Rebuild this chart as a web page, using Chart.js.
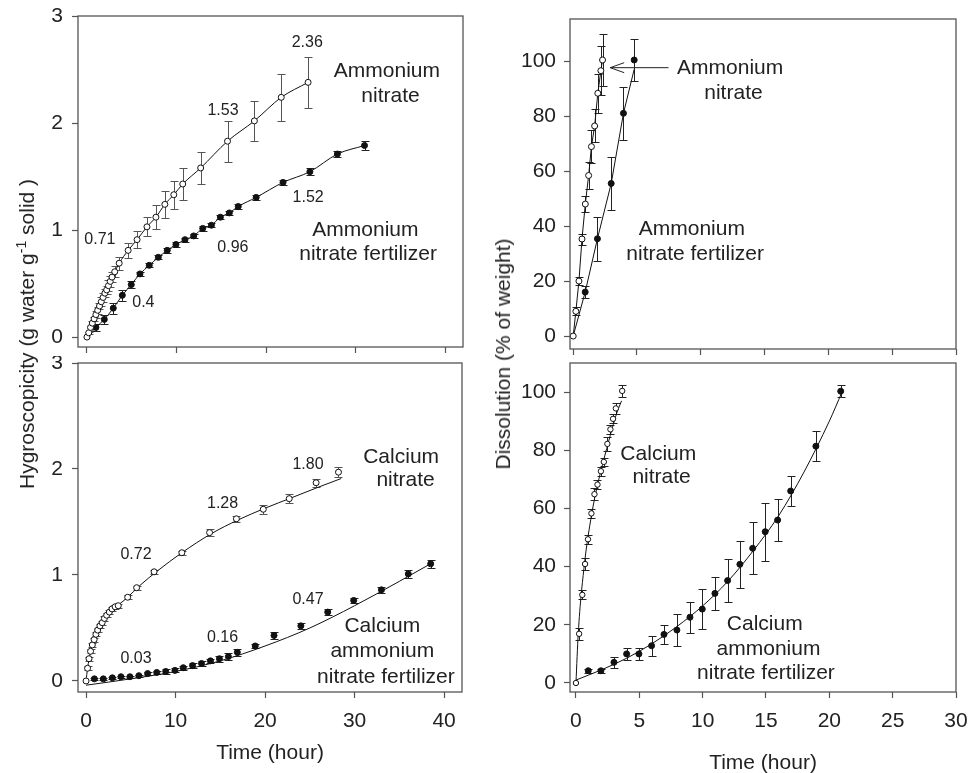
<!DOCTYPE html>
<html>
<head>
<meta charset="utf-8">
<script src="https://cdn.jsdelivr.net/npm/chart.js@4.4.1/dist/chart.umd.min.js"></script>
<style>
  html, body { margin: 0; padding: 0; background: #fff; overflow: hidden; }
  #wrap { position: relative; width: 968px; height: 773px; overflow: hidden;
          font-family: Arial, "Liberation Sans", sans-serif; color: #222; }
  canvas { position: absolute; }
  .ytitle { position: absolute; font-size: 21px; white-space: nowrap;
            transform: translate(-50%, -50%) rotate(-90deg); }
  .ytitle sup { font-size: 14px; }
</style>
</head>
<body>
<div id="wrap">
  <canvas id="tl" width="470" height="356" style="left:0;top:0"></canvas>
  <canvas id="bl" width="470" height="417" style="left:0;top:356px"></canvas>
  <canvas id="tr" width="488" height="356" style="left:480px;top:0"></canvas>
  <canvas id="br" width="488" height="425" style="left:480px;top:356px"></canvas>
  <div class="ytitle" style="left:26px;top:334px">Hygroscopicity (g water g<sup>-1</sup> solid )</div>
  <div class="ytitle" style="left:503px;top:354px">Dissolution (% of weight)</div>
</div>
<script>
const FONT = 'Arial, "Liberation Sans", sans-serif';

// ---- hygroscopicity, ammonium nitrate (open) ----
const anTime = [0, 0.2, 0.4, 0.6, 0.8, 1.0, 1.2, 1.4, 1.6, 1.8, 2.0, 2.2, 2.4, 2.6, 2.8, 3.1, 3.6, 4.6, 5.6, 6.7, 7.7, 8.7, 9.7, 10.7, 12.7, 15.7, 18.7, 21.7, 24.7];
const anHyg = [0, 0.04, 0.09, 0.13, 0.17, 0.21, 0.25, 0.29, 0.33, 0.37, 0.41, 0.44, 0.48, 0.52, 0.56, 0.61, 0.69, 0.81, 0.91, 1.03, 1.12, 1.24, 1.33, 1.43, 1.58, 1.83, 2.02, 2.24, 2.38];
const anHygErr = [0, 0.01, 0.01, 0.02, 0.02, 0.03, 0.03, 0.03, 0.04, 0.04, 0.04, 0.04, 0.05, 0.05, 0.05, 0.05, 0.06, 0.07, 0.08, 0.09, 0.11, 0.125, 0.13, 0.15, 0.15, 0.19, 0.19, 0.22, 0.24];

// ---- hygroscopicity, ammonium nitrate fertilizer (filled) ----
const anfTime = [1.0, 1.94, 2.94, 3.95, 4.95, 5.92, 6.96, 7.97, 8.97, 9.94, 10.95, 11.92, 12.93, 13.9, 14.9, 15.9, 16.9, 18.9, 21.9, 24.9, 27.97, 31.0];
const anfHyg = [0.09, 0.165, 0.27, 0.39, 0.49, 0.59, 0.67, 0.745, 0.81, 0.865, 0.91, 0.945, 1.015, 1.045, 1.12, 1.16, 1.22, 1.305, 1.445, 1.545, 1.71, 1.79];
const anfHygErr = [0.03, 0.04, 0.05, 0.05, 0.03, 0.02, 0.02, 0.02, 0.02, 0.02, 0.02, 0.02, 0.02, 0.02, 0.02, 0.02, 0.02, 0.02, 0.02, 0.03, 0.03, 0.04];

// ---- hygroscopicity, calcium nitrate (open) ----
const cnTime = [0, 0.17, 0.33, 0.5, 0.7, 0.9, 1.1, 1.3, 1.55, 1.8, 2.05, 2.3, 2.6, 2.9, 3.25, 3.6, 4.65, 5.65, 7.6, 10.7, 13.8, 16.8, 19.8, 22.7, 25.7, 28.2];
const cnHyg = [0, 0.12, 0.21, 0.28, 0.34, 0.39, 0.44, 0.48, 0.52, 0.55, 0.59, 0.62, 0.65, 0.68, 0.70, 0.71, 0.79, 0.88, 1.03, 1.21, 1.40, 1.53, 1.62, 1.72, 1.87, 1.97];
const cnHygErr = [0, 0.02, 0.02, 0.02, 0.02, 0.02, 0.02, 0.02, 0.02, 0.02, 0.02, 0.02, 0.02, 0.02, 0.02, 0.02, 0.02, 0.02, 0.02, 0.02, 0.03, 0.03, 0.04, 0.04, 0.04, 0.05];
const cnHygFitT = [0, 0.17, 0.5, 1, 2, 3, 4.65, 6, 8, 10.7, 14, 17, 20, 23, 26, 28.5];
const cnHygFitV = [0, 0.12, 0.27, 0.43, 0.57, 0.67, 0.79, 0.9, 1.04, 1.21, 1.39, 1.52, 1.63, 1.73, 1.83, 1.91];

// ---- hygroscopicity, calcium ammonium nitrate fertilizer (filled) ----
const canTime = [0.93, 1.93, 2.94, 3.9, 4.9, 5.9, 6.88, 7.9, 8.9, 9.93, 10.86, 11.9, 12.9, 13.9, 14.9, 15.9, 16.9, 18.9, 21.0, 24.0, 27.0, 29.9, 33.0, 36.0, 38.5];
const canHyg = [0.02, 0.02, 0.03, 0.04, 0.04, 0.05, 0.07, 0.08, 0.09, 0.10, 0.125, 0.145, 0.165, 0.19, 0.21, 0.23, 0.27, 0.33, 0.43, 0.52, 0.65, 0.76, 0.86, 1.01, 1.105];
const canHygErr = [0.01, 0.01, 0.01, 0.01, 0.01, 0.01, 0.01, 0.01, 0.02, 0.02, 0.02, 0.02, 0.02, 0.02, 0.03, 0.03, 0.03, 0.02, 0.03, 0.03, 0.03, 0.02, 0.03, 0.04, 0.04];
const canHygFitT = [0, 5, 10, 15, 20, 25, 30, 35, 38.8];
const canHygFitV = [-0.04, 0.02, 0.09, 0.19, 0.33, 0.5, 0.71, 0.94, 1.12];

// ---- dissolution, ammonium nitrate (open) ----
const anDisT = [0, 0.21, 0.45, 0.69, 0.95, 1.21, 1.43, 1.68, 1.93, 2.17, 2.3];
const anDis = [0, 9, 20, 35.3, 48, 58.4, 68.9, 76.4, 88.3, 96.5, 100.4];
const anDisErr = [0, 1.5, 1.5, 2, 3, 5, 6, 6, 7, 9, 9.5];

// ---- dissolution, ammonium nitrate fertilizer (filled) ----
const anfDisT = [0.94, 1.9, 2.98, 3.94, 4.78];
const anfDis = [16, 35.4, 55.5, 81, 100.4];
const anfDisErr = [2.2, 8, 9.7, 9.7, 7.7];
const anfDisFitT = [0, 0.94, 1.9, 2.98, 3.94, 4.78];
const anfDisFitV = [0, 16, 35.4, 55.5, 81, 97];

// ---- dissolution, calcium nitrate (open) ----
const cnDisT = [0, 0.25, 0.5, 0.72, 0.95, 1.22, 1.46, 1.7, 1.97, 2.2, 2.48, 2.72, 2.93, 3.15, 3.65];
const cnDis = [0, 16.9, 30.3, 40.9, 49.4, 58.3, 64.9, 68.2, 72.8, 76, 82.2, 87.2, 90.8, 94.4, 100.4];
const cnDisErr = [0, 2, 1.5, 2, 1.5, 1.5, 2, 1.5, 1.5, 1.5, 2.5, 1.5, 1.5, 2, 2.2];
const cnDisFitT = [0, 0.18, 0.66, 1.24, 1.7, 2.15, 2.7, 3.2, 3.6];
const cnDisFitV = [0, 17, 40.5, 58, 68, 76, 85, 92.5, 97];

// ---- dissolution, calcium ammonium nitrate fertilizer (filled) ----
const canDisT = [0.97, 1.97, 3.0, 4.0, 4.97, 5.97, 6.95, 7.97, 9.0, 9.97, 10.97, 11.97, 12.94, 13.95, 14.94, 15.92, 16.95, 18.94, 20.9];
const canDis = [4.2, 4.2, 7.1, 10, 10, 12.8, 16.7, 18.2, 22.6, 25.4, 30.8, 35.2, 40.8, 46.3, 52, 56, 66, 81.4, 100.3];
const canDisErr = [0.6, 0.6, 2, 2, 2, 3.5, 3.4, 5.4, 5.4, 7, 5.6, 7.3, 8, 9, 10, 7.2, 5.3, 5.2, 2];
const canDisFitT = [0, 2, 4, 6, 8, 10, 12, 14, 16, 18, 20, 21];
const canDisFitV = [1, 4.5, 8.5, 13.5, 19.5, 26.5, 35, 45.5, 57.5, 72.5, 90, 100];

// tick labels
const hygTicks = [0, 1, 2, 3];
const hygTimeTicks = [0, 10, 20, 30, 40];
const disTicks = [0, 20, 40, 60, 80, 100];
const disTimeTicks = [0, 5, 10, 15, 20, 25, 30];

// text notes (data units)
const tlNotes = [
  { x: 24.6, y: 2.75, text: '2.36', size: 16 },
  { x: 15.2, y: 2.12, text: '1.53', size: 16 },
  { x: 1.45, y: 0.913, text: '0.71', size: 16 },
  { x: 16.3, y: 0.84, text: '0.96', size: 16 },
  { x: 24.7, y: 1.30, text: '1.52', size: 16 },
  { x: 6.3, y: 0.32, text: '0.4', size: 16 },
  { x: 33.5, y: 2.48, text: 'Ammonium', size: 21 },
  { x: 33.9, y: 2.25, text: 'nitrate', size: 21 },
  { x: 31.1, y: 1.0, text: 'Ammonium', size: 21 },
  { x: 31.4, y: 0.77, text: 'nitrate fertilizer', size: 21 }
];
const blNotes = [
  { x: 24.8, y: 2.04, text: '1.80', size: 16 },
  { x: 15.25, y: 1.67, text: '1.28', size: 16 },
  { x: 5.58, y: 1.19, text: '0.72', size: 16 },
  { x: 5.58, y: 0.21, text: '0.03', size: 16 },
  { x: 15.25, y: 0.41, text: '0.16', size: 16 },
  { x: 24.8, y: 0.77, text: '0.47', size: 16 },
  { x: 35.2, y: 2.11, text: 'Calcium', size: 21 },
  { x: 35.7, y: 1.89, text: 'nitrate', size: 21 },
  { x: 33.1, y: 0.52, text: 'Calcium', size: 21 },
  { x: 33.1, y: 0.28, text: 'ammonium', size: 21 },
  { x: 33.5, y: 0.04, text: 'nitrate fertilizer', size: 21 }
];
const trNotes = [
  { x: 12.3, y: 97.3, text: 'Ammonium', size: 21 },
  { x: 12.56, y: 88.3, text: 'nitrate', size: 21 },
  { x: 9.3, y: 38.8, text: 'Ammonium', size: 21 },
  { x: 9.56, y: 29.8, text: 'nitrate fertilizer', size: 21 }
];
const brNotes = [
  { x: 6.5, y: 78.6, text: 'Calcium', size: 21 },
  { x: 6.76, y: 70.7, text: 'nitrate', size: 21 },
  { x: 14.9, y: 20.2, text: 'Calcium', size: 21 },
  { x: 15.2, y: 11.6, text: 'ammonium', size: 21 },
  { x: 15.0, y: 3.3, text: 'nitrate fertilizer', size: 21 }
];
const trArrow = { from: [7.47, 97.6], to: [2.9, 97.6] };

function pts(t, v) { return t.map((x, i) => ({ x: x, y: v[i] })); }

function pointSet(t, v, err, open, barColor, r) {
  return {
    data: pts(t, v), err: err, barColor: barColor, showLine: false,
    pointRadius: r || 3, pointBorderWidth: 1,
    pointBackgroundColor: open ? '#fff' : '#111', pointBorderColor: '#111'
  };
}
function lineSet(data, tension) {
  return {
    data: data, showLine: true, pointRadius: 0, borderColor: '#111', borderWidth: 1,
    tension: tension, cubicInterpolationMode: tension ? 'monotone' : 'default'
  };
}

function decor(notes, arrow) {
  return {
    id: 'decor',
    beforeDatasetsDraw(chart) {
      const ctx = chart.ctx, xs = chart.scales.x, ys = chart.scales.y;
      ctx.save();
      chart.data.datasets.forEach(ds => {
        if (!ds.err) return;
        ctx.strokeStyle = ds.barColor;
        ctx.lineWidth = 1;
        ds.data.forEach((p, j) => {
          const e = ds.err[j];
          if (!e) return;
          const px = Math.round(xs.getPixelForValue(p.x)) + 0.5;
          const y1 = Math.round(ys.getPixelForValue(p.y - e)) + 0.5;
          const y2 = Math.round(ys.getPixelForValue(p.y + e)) + 0.5;
          ctx.beginPath();
          ctx.moveTo(px, y1); ctx.lineTo(px, y2);
          ctx.moveTo(px - 4, y1); ctx.lineTo(px + 4, y1);
          ctx.moveTo(px - 4, y2); ctx.lineTo(px + 4, y2);
          ctx.stroke();
        });
      });
      ctx.restore();
    },
    afterDraw(chart) {
      const ctx = chart.ctx, a = chart.chartArea, xs = chart.scales.x, ys = chart.scales.y;
      ctx.save();
      ctx.strokeStyle = '#555';
      ctx.lineWidth = 1.3;
      ctx.strokeRect(a.left, a.top, a.right - a.left, a.bottom - a.top);
      ctx.fillStyle = '#222';
      ctx.textAlign = 'center';
      ctx.textBaseline = 'middle';
      notes.forEach(n => {
        ctx.font = n.size + 'px ' + FONT;
        ctx.fillText(n.text, xs.getPixelForValue(n.x), ys.getPixelForValue(n.y));
      });
      if (arrow) {
        const x1 = xs.getPixelForValue(arrow.from[0]), y1 = ys.getPixelForValue(arrow.from[1]);
        const x2 = xs.getPixelForValue(arrow.to[0]), y2 = ys.getPixelForValue(arrow.to[1]);
        ctx.strokeStyle = '#222';
        ctx.lineWidth = 1;
        ctx.beginPath();
        ctx.moveTo(x1, y1); ctx.lineTo(x2, y2);
        ctx.moveTo(x2 + 14, y2 - 5); ctx.lineTo(x2, y2); ctx.lineTo(x2 + 14, y2 + 5);
        ctx.stroke();
      }
      ctx.restore();
    }
  };
}

const gridOpts = { drawOnChartArea: false, drawTicks: true, tickLength: 6, tickColor: '#555', tickWidth: 1.2 };

function xScale(min, max, ticks, showLabels, height, title, padBottom) {
  return {
    type: 'linear', min: min, max: max,
    afterBuildTicks: s => { s.ticks = ticks.map(v => ({ value: v })); },
    afterFit: s => { s.height = height; s.paddingLeft = 0; s.paddingRight = 0; },
    grid: gridOpts,
    border: { display: false },
    ticks: { display: showLabels, padding: 11, color: '#222', autoSkip: false, maxRotation: 0,
             font: { size: 21, family: FONT } },
    title: { display: !!title, text: title || '', color: '#222', font: { size: 21, family: FONT },
             padding: { top: 0, bottom: padBottom || 0 } }
  };
}
function yScale(min, max, ticks, width, pad) {
  return {
    type: 'linear', min: min, max: max,
    afterBuildTicks: s => { s.ticks = ticks.map(v => ({ value: v })); },
    afterFit: s => { s.width = width; s.paddingTop = 0; s.paddingBottom = 0; },
    grid: gridOpts,
    border: { display: false },
    ticks: { padding: pad, color: '#222', font: { size: 21, family: FONT } }
  };
}

function panel(id, datasets, x, y, padding, notes, arrow) {
  return new Chart(document.getElementById(id), {
    type: 'scatter',
    data: { datasets: datasets },
    options: {
      responsive: false, animation: false, events: [],
      layout: { padding: padding, autoPadding: false },
      plugins: { legend: { display: false }, tooltip: { enabled: false } },
      scales: { x: x, y: y }
    },
    plugins: [decor(notes, arrow)]
  });
}

// top left
panel('tl', [
  pointSet(anTime, anHyg, anHygErr, true, '#555'),
  pointSet(anfTime, anfHyg, anfHygErr, false, '#222'),
  lineSet(pts(anTime, anHyg), 0.4),
  lineSet([{ x: 0, y: 0 }].concat(pts(anfTime, anfHyg)), 0.4)
], xScale(-1.0, 42.0, hygTimeTicks, false, 9),
   yScale(-0.093, 3, hygTicks, 78, 9),
   { top: 16, right: 7, left: 0, bottom: 0 }, tlNotes);

// bottom left
panel('bl', [
  pointSet(cnTime, cnHyg, cnHygErr, true, '#555'),
  pointSet(canTime, canHyg, canHygErr, false, '#222'),
  lineSet(pts(cnHygFitT, cnHygFitV), 0.4),
  lineSet(pts(canHygFitT, canHygFitV), 0.4)
], xScale(-0.9, 42.0, hygTimeTicks, true, 81, 'Time (hour)', 7),
   yScale(-0.104, 3, hygTicks, 78, 9),
   { top: 7, right: 8, left: 0, bottom: 0 }, blNotes);

// top right
panel('tr', [
  pointSet(anDisT, anDis, anDisErr, true, '#222'),
  pointSet(anfDisT, anfDis, anfDisErr, false, '#222'),
  lineSet(pts(anDisT, anDis), 0),
  lineSet(pts(anfDisFitT, anfDisFitV), 0)
], xScale(-0.25, 30, disTimeTicks, false, 7),
   yScale(-4.7, 115.3, disTicks, 90, 8),
   { top: 19, right: 12, left: 0, bottom: 0 }, trNotes, trArrow);

// bottom right
panel('br', [
  pointSet(cnDisT, cnDis, cnDisErr, true, '#222', 2.7),
  pointSet(canDisT, canDis, canDisErr, false, '#222'),
  lineSet(pts(cnDisFitT, cnDisFitV), 0.4),
  lineSet(pts(canDisFitT, canDisFitV), 0.4)
], xScale(-0.47, 30, disTimeTicks, true, 89, 'Time (hour)', 5),
   yScale(-3.1, 110, disTicks, 90, 8),
   { top: 7, right: 12, left: 0, bottom: 0 }, brNotes);
</script>
</body>
</html>
